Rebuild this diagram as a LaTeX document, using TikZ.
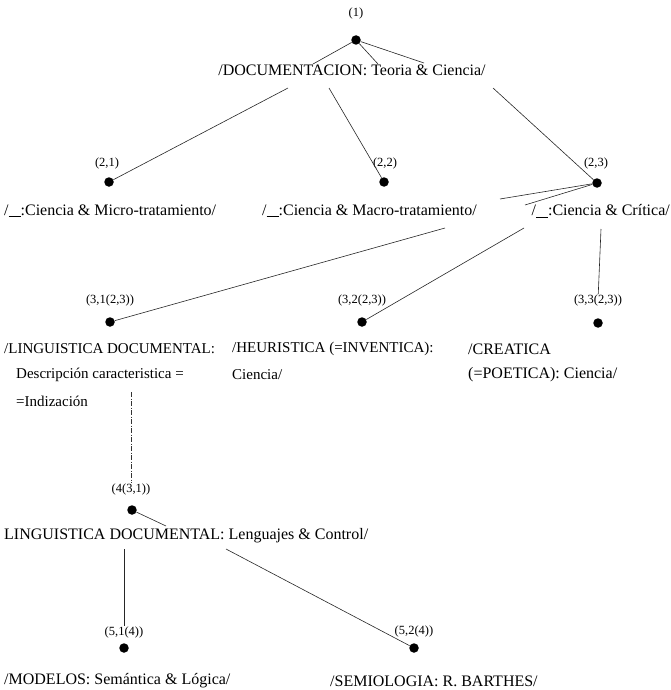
\documentclass[tikz,border=0pt]{standalone}
\usepackage{fontspec}
\setmainfont{Liberation Serif}
\newcommand{\blankmark}{\rule[-1.5pt]{0.75em}{0.6pt}}
\tikzset{
  dotnode/.style={circle, fill=black, inner sep=0pt, minimum size=9.5pt},
  lab/.style={font=\fontsize{12.5}{14}\selectfont, inner sep=0pt},
  txt/.style={font=\fontsize{16}{19}\selectfont, inner sep=0pt, anchor=west},
  txtsmall/.style={font=\fontsize{15}{18}\selectfont, inner sep=0pt, anchor=west},
  edge/.style={draw=black!85, line width=0.6pt},
  dashedge/.style={draw=black!80, line width=0.6pt, dash pattern=on 5pt off 1.5pt on 1pt off 1.5pt}
}
\begin{document}
\begin{tikzpicture}[x=1pt,y=-1pt]
\useasboundingbox (0,0) rectangle (671,690);
% level 1
\node[lab] (l1) at (356,13) {(1)};
\node[dotnode] (d1) at (356,40) {};
\node[txt, anchor=center] (t1) at (352,70) {/DOCUMENTACION: Teoria \& Ciencia/};
% level 2
\node[lab] (l21) at (107,163) {(2,1)};
\node[dotnode] (d21) at (109,182) {};
\node[lab] (l22) at (385,163) {(2,2)};
\node[dotnode] (d22) at (384,182) {};
\node[lab] (l23) at (596,163) {(2,3)};
\node[dotnode] (d23) at (597,183) {};
\node[txt] (t21) at (4,211) {/\blankmark:Ciencia \& Micro-tratamiento/};
\node[txt] (t22) at (262,211) {/\blankmark:Ciencia \& Macro-tratamiento/};
\node[txt, anchor=east] (t23) at (670,211) {/\blankmark:Ciencia \& Crítica/};
% level 3
\node[lab] (l31) at (110,300) {(3,1(2,3))};
\node[dotnode] (d31) at (110,322) {};
\node[lab] (l32) at (362,300) {(3,2(2,3))};
\node[dotnode] (d32) at (362,322) {};
\node[lab] (l33) at (598,300) {(3,3(2,3))};
\node[dotnode] (d33) at (598,323) {};
\node[txtsmall] (t31a) at (4,349) {/LINGUISTICA DOCUMENTAL:};
\node[txtsmall] (t31b) at (16,375) {Descripción caracteristica =};
\node[txtsmall] (t31c) at (16,401) {=Indización};
\node[txtsmall] (t32a) at (232,349) {/HEURISTICA (=INVENTICA):};
\node[txtsmall] (t32b) at (232,375) {Ciencia/};
\node[txt] (t33a) at (468,349) {/CREATICA};
\node[txt] (t33b) at (468,375) {(=POETICA): Ciencia/};
% level 4
\node[lab] (l4) at (131,489) {(4(3,1))};
\node[dotnode] (d4) at (132,510) {};
\node[txt] (t4) at (4,536) {LINGUISTICA DOCUMENTAL: Lenguajes \& Control/};
% level 5
\node[lab] (l51) at (124,632) {(5,1(4))};
\node[dotnode] (d51) at (124,648) {};
\node[lab] (l52) at (414,631) {(5,2(4))};
\node[dotnode] (d52) at (414,648) {};
\node[txt] (t51) at (4,681) {/MODELOS: Semántica \& Lógica/};
\node[txt] (t52) at (330,681) {/SEMIOLOGIA: R. BARTHES/};
% break coordinates
\coordinate (a1) at (313,64);
\coordinate (a2) at (378,64);
\coordinate (a3) at (424,63);
\coordinate (b1) at (288,88);
\coordinate (b2) at (329,88);
\coordinate (b3) at (493,88);
\coordinate (c1) at (500,199);
\coordinate (c2) at (525,205);
\coordinate (e1) at (445,228);
\coordinate (e2) at (524,228);
\coordinate (e3) at (601,229);
\coordinate (f1) at (131,392);
\coordinate (g1) at (166,526);
\coordinate (h1) at (124,549);
\coordinate (h2) at (226,549);
% connectors
\draw[edge] (d1) -- (a1);
\draw[edge] (d1) -- (a2);
\draw[edge] (d1) -- (a3);
\draw[edge] (b1) -- (d21);
\draw[edge] (b2) -- (d22);
\draw[edge] (b3) -- (d23);
\draw[edge] (d23) -- (c1);
\draw[edge] (d23) -- (c2);
\draw[edge] (e1) -- (d31);
\draw[edge] (e2) -- (d32);
\draw[edge] (e3) -- (l33);
\draw[dashedge] (f1) -- (l4);
\draw[edge] (d4) -- (g1);
\draw[edge] (h1) -- (l51);
\draw[edge] (h2) -- (d52);
\end{tikzpicture}
\end{document}
